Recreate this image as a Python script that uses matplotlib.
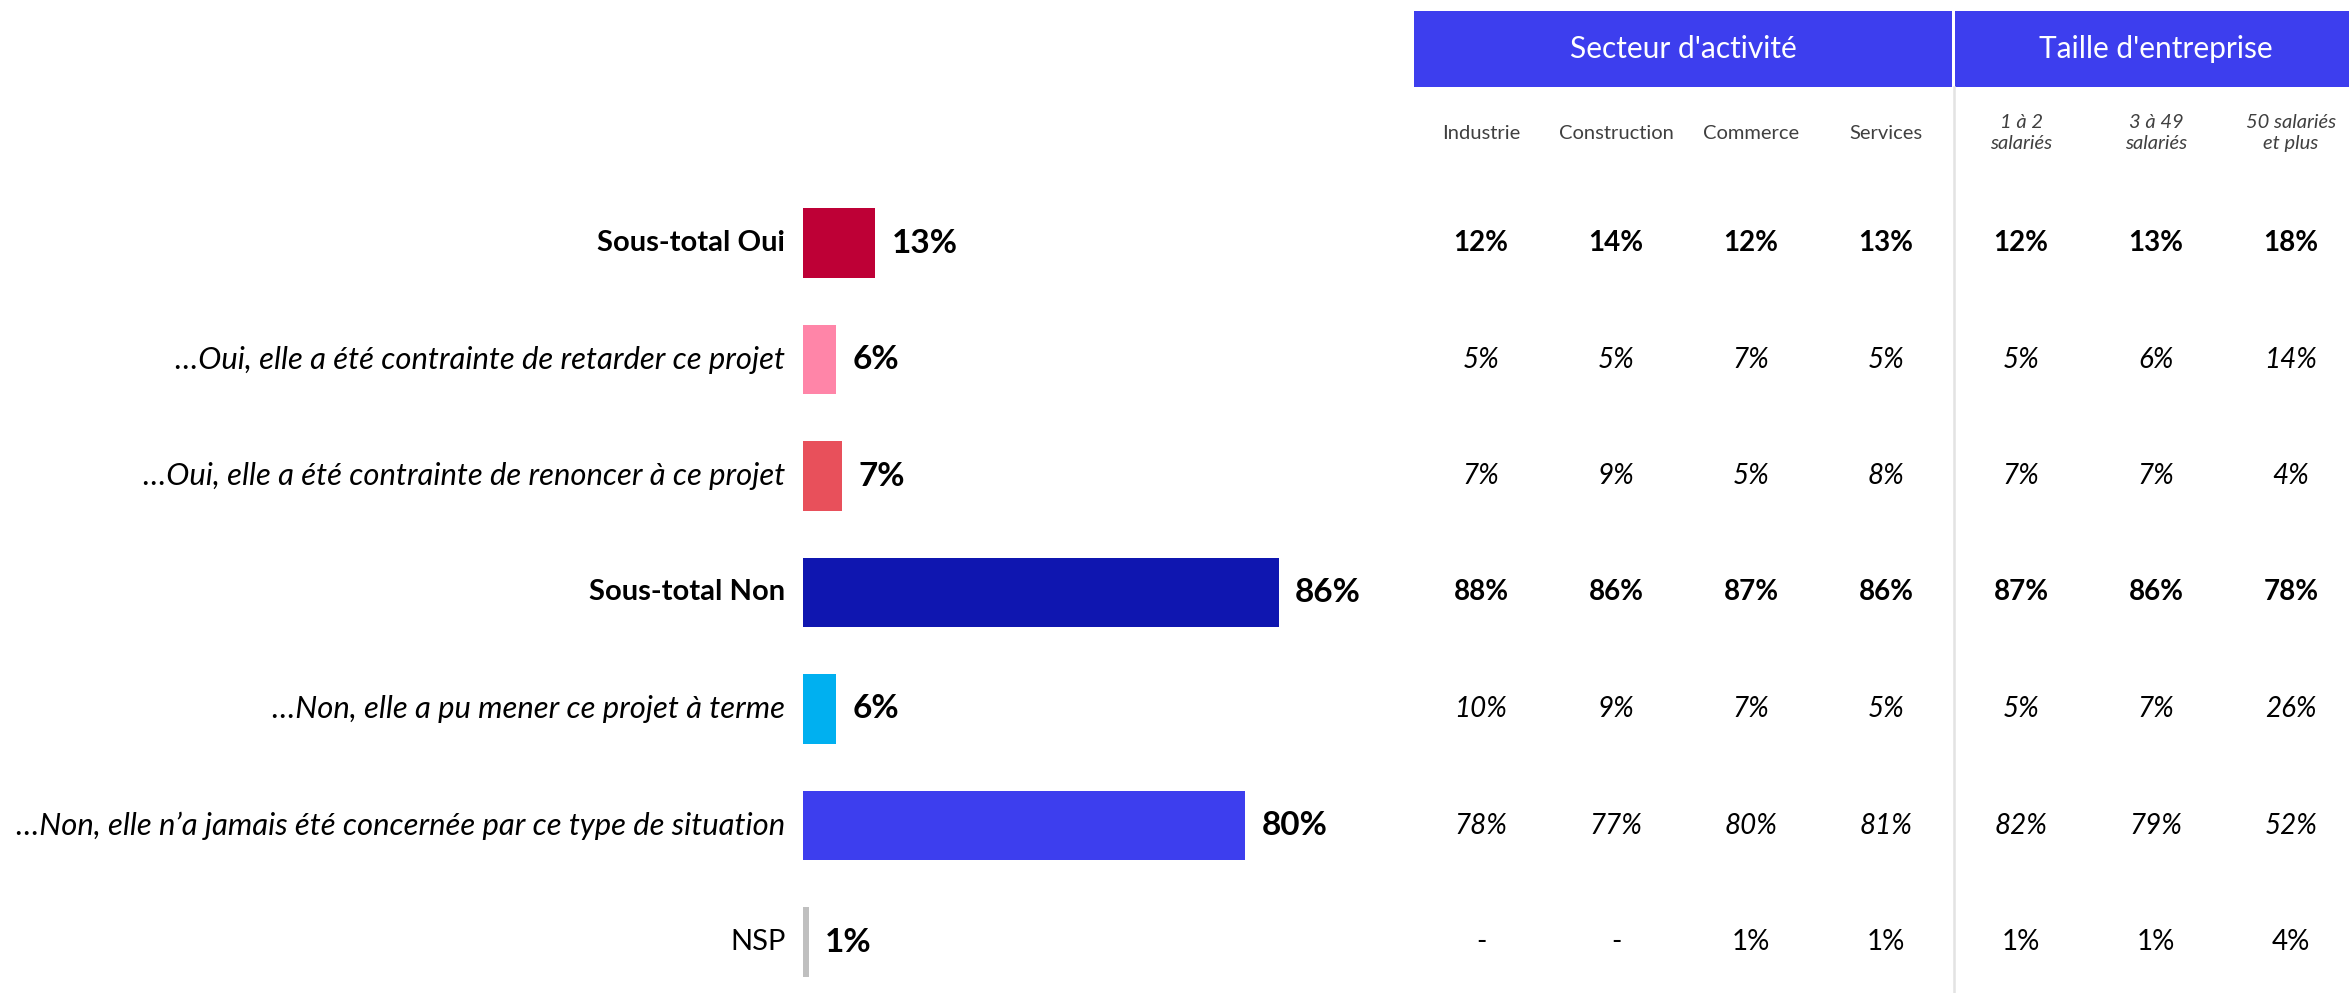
import matplotlib
matplotlib.use("Agg")
import matplotlib.pyplot as plt
from matplotlib.patches import Rectangle

plt.rcParams["font.family"] = ["Lato", "DejaVu Sans"]

# --- data -------------------------------------------------------------
labels = [
    "Sous-total Oui",
    "…Oui, elle a été contrainte de retarder ce projet",
    "…Oui, elle a été contrainte de renoncer à ce projet",
    "Sous-total Non",
    "…Non, elle a pu mener ce projet à terme",
    "…Non, elle n’a jamais été concernée par ce type de situation",
    "NSP",
]
totals = [13, 6, 7, 86, 6, 80, 1]
bar_colors = ["#BE0036", "#FF85A8", "#E8505B", "#0F16B0", "#00B0F0", "#3D3EEE", "#BFBFBF"]
row_kind = ["bold", "italic", "italic", "bold", "italic", "italic", "normal"]

groups = ["Secteur d'activité", "Taille d'entreprise"]
group_cols = [[0, 1, 2, 3], [4, 5, 6]]
columns = ["Industrie", "Construction", "Commerce", "Services",
           "1 à 2\nsalariés", "3 à 49\nsalariés", "50 salariés\net plus"]
col_italic = [False, False, False, False, True, True, True]

industrie = [12, 5, 7, 88, 10, 78, None]
construction = [14, 5, 9, 86, 9, 77, None]
commerce = [12, 7, 5, 87, 7, 80, 1]
services = [13, 5, 8, 86, 5, 81, 1]
taille_1_2 = [12, 5, 7, 87, 5, 82, 1]
taille_3_49 = [13, 6, 7, 86, 7, 79, 1]
taille_50 = [18, 14, 4, 78, 26, 52, 4]
table = [industrie, construction, commerce, services, taille_1_2, taille_3_49, taille_50]

# --- layout (pixels of a 2349x993 canvas) -----------------------------
W, H = 2349, 993
row0, row_h = 243, 116.5          # centre of first row, row pitch
ylim = ((H - row0) / row_h, -row0 / row_h)

label_size = {"bold": 21, "italic": 22.3, "normal": 21}

fig = plt.figure(figsize=(W / 100, H / 100), dpi=100)

# bar chart
ax = fig.add_axes([803 / W, 0, 553 / W, 1])
ax.set_xlim(0, 100)
ax.set_ylim(*ylim)
ax.axis("off")
rows = list(range(len(labels)))
ax.barh(rows, totals, height=0.6, color=bar_colors)
for i, (lab, v, kind) in enumerate(zip(labels, totals, row_kind)):
    ax.text(-3.2, i, lab, ha="right", va="center", fontsize=label_size[kind],
            fontweight="bold" if kind == "bold" else "normal",
            fontstyle="italic" if kind == "italic" else "normal")
    ax.text(v + 3.0, i, f"{v}%", ha="left", va="center",
            fontsize=24, fontweight="bold")

# table on the right
tx = fig.add_axes([1413.5 / W, 0, 945 / W, 1])
tx.set_xlim(-0.5, 6.5)
tx.set_ylim(*ylim)
tx.axis("off")

band_top, band_bot = (11 - row0) / row_h, (87 - row0) / row_h
gap = 0.012
for name, cols in zip(groups, group_cols):
    x0, x1 = cols[0] - 0.5, cols[-1] + 0.5
    if cols[0] > 0:
        x0 += gap
    else:
        x1 -= gap
    tx.add_patch(Rectangle((x0, band_bot), x1 - x0, band_top - band_bot,
                           color="#3D3EEE", lw=0, clip_on=False))
    tx.text((cols[0] + cols[-1]) / 2, (band_top + band_bot) / 2, name,
            ha="center", va="center", color="white", fontsize=21.5)

tx.plot([3.5, 3.5], [band_bot, ylim[0]], color="#E3E3E3", lw=1.8)

head_y = (133 - row0) / row_h
for j, (c, it) in enumerate(zip(columns, col_italic)):
    tx.text(j, head_y, c, ha="center", va="center", fontsize=14.5,
            color="#404040", fontstyle="italic" if it else "normal",
            linespacing=1.3)

for j, col in enumerate(table):
    for i, v in enumerate(col):
        kind = row_kind[i]
        tx.text(j, i, "-" if v is None else f"{v}%", ha="center", va="center",
                fontsize=20,
                fontweight="bold" if kind == "bold" else "normal",
                fontstyle="italic" if kind == "italic" else "normal")

fig.savefig("out.png", dpi=100, facecolor="white")
